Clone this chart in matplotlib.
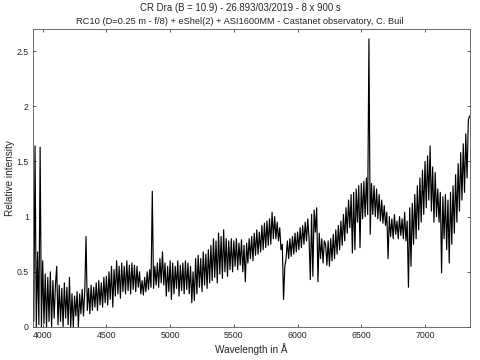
import numpy as np
import matplotlib
matplotlib.use("Agg")
import matplotlib.pyplot as plt
from matplotlib.ticker import FormatStrFormatter

# Wavelength grid (Angstrom), 10 A sampling from 3920 to 7350
wavelength = np.arange(3920, 7351, 10)

# Relative intensity (alternating upper / lower excursions of the noisy spectrum)
flux = [
    0.45, 0.05, 1.64, 0.00, 0.68, 0.02, 1.63, 0.00, 0.60, 0.03,   # 3920-4010
    0.48, 0.00, 0.45, 0.05, 0.50, 0.00, 0.42, 0.08, 0.38, 0.55,   # 4020-4110
    0.02, 0.38, 0.05, 0.35, 0.00, 0.40, 0.08, 0.36, 0.02, 0.45,   # 4120-4210
    0.00, 0.30, 0.00, 0.28, 0.10, 0.32, 0.00, 0.30, 0.12, 0.34,   # 4220-4310
    0.10, 0.32, 0.82, 0.15, 0.35, 0.12, 0.38, 0.15, 0.36, 0.18,   # 4320-4410
    0.40, 0.15, 0.42, 0.20, 0.40, 0.18, 0.45, 0.22, 0.46, 0.20,   # 4420-4510
    0.50, 0.25, 0.55, 0.18, 0.52, 0.28, 0.60, 0.30, 0.55, 0.26,   # 4520-4610
    0.58, 0.32, 0.55, 0.30, 0.60, 0.33, 0.56, 0.30, 0.58, 0.34,   # 4620-4710
    0.56, 0.32, 0.55, 0.36, 0.50, 0.30, 0.42, 0.29, 0.45, 0.32,   # 4720-4810
    0.50, 0.34, 0.52, 0.36, 1.23, 0.35, 0.55, 0.38, 0.58, 0.36,   # 4820-4910
    0.62, 0.40, 0.68, 0.38, 0.58, 0.28, 0.55, 0.32, 0.60, 0.25,   # 4920-5010
    0.58, 0.30, 0.55, 0.35, 0.60, 0.28, 0.56, 0.33, 0.58, 0.30,   # 5020-5110
    0.60, 0.34, 0.58, 0.30, 0.55, 0.22, 0.50, 0.24, 0.62, 0.30,   # 5120-5210
    0.65, 0.36, 0.62, 0.32, 0.68, 0.38, 0.66, 0.35, 0.70, 0.40,   # 5220-5310
    0.74, 0.42, 0.80, 0.45, 0.78, 0.40, 0.85, 0.48, 0.82, 0.44,   # 5320-5410
    0.88, 0.50, 0.80, 0.46, 0.78, 0.52, 0.80, 0.50, 0.78, 0.55,   # 5420-5510
    0.80, 0.52, 0.76, 0.56, 0.79, 0.50, 0.74, 0.41, 0.76, 0.58,   # 5520-5610
    0.80, 0.62, 0.82, 0.60, 0.85, 0.65, 0.88, 0.66, 0.86, 0.68,   # 5620-5710
    0.92, 0.70, 0.94, 0.72, 0.96, 0.74, 0.98, 0.75, 1.04, 0.80,   # 5720-5810
    1.00, 0.80, 0.95, 0.78, 0.90, 0.70, 0.75, 0.25, 0.55, 0.62,   # 5820-5910
    0.78, 0.62, 0.80, 0.64, 0.82, 0.66, 0.85, 0.68, 0.86, 0.70,   # 5920-6010
    0.90, 0.72, 0.92, 0.75, 0.95, 0.78, 0.98, 0.80, 0.43, 1.02,   # 6020-6110
    0.46, 1.06, 0.86, 1.08, 0.41, 0.85, 0.62, 0.80, 0.58, 0.78,   # 6120-6210
    0.75, 0.56, 0.78, 0.55, 0.80, 0.60, 0.84, 0.62, 0.88, 0.66,   # 6220-6310
    0.92, 0.70, 0.96, 0.74, 1.02, 0.78, 1.08, 0.85, 1.15, 0.90,   # 6320-6410
    1.20, 0.67, 1.22, 0.70, 1.25, 0.95, 1.28, 0.72, 1.30, 0.98,   # 6420-6510
    1.32, 1.00, 1.35, 1.02, 2.61, 0.84, 1.30, 1.02, 1.28, 1.00,   # 6520-6610
    1.25, 0.98, 1.20, 0.96, 1.15, 0.94, 1.10, 0.92, 1.04, 0.62,   # 6620-6710
    1.00, 0.82, 0.98, 0.80, 1.02, 0.84, 0.96, 0.80, 1.00, 0.83,   # 6720-6810
    0.98, 0.80, 1.04, 0.78, 0.96, 0.36, 1.08, 0.55, 1.12, 0.75,   # 6820-6910
    1.20, 0.80, 1.28, 0.88, 1.35, 0.95, 1.42, 1.02, 1.50, 1.08,   # 6920-7010
    1.55, 1.15, 1.64, 1.05, 1.45, 0.95, 1.40, 1.00, 1.25, 0.95,   # 7020-7110
    1.22, 0.49, 1.18, 0.80, 1.20, 0.70, 1.15, 0.58, 1.22, 0.75,   # 7120-7210
    1.28, 0.85, 1.38, 0.95, 1.48, 1.05, 1.58, 1.15, 1.66, 1.22,   # 7220-7310
    1.75, 1.35, 1.88, 1.91,                                       # 7320-7350
]

x_ticks = [4000, 4500, 5000, 5500, 6000, 6500, 7000]
y_ticks = [0, 0.5, 1, 1.5, 2, 2.5]

title_line1 = "CR Dra (B = 10.9) - 26.893/03/2019 - 8 x 900 s"
title_line2 = "RC10 (D=0.25 m - f/8) + eShel(2) + ASI1600MM - Castanet observatory, C. Buil"

plt.rcParams['font.family'] = ['Liberation Sans', 'DejaVu Sans']
txt_color = '#262626'

fig = plt.figure(figsize=(4.8, 3.6), dpi=100)
ax = fig.add_axes([33/480, 33/360, (470-33)/480, (327-29)/360])
ax.plot(wavelength, flux, color='k', lw=0.85, solid_joinstyle='round')

ax.set_xlim(3924, 7353)
ax.set_ylim(0, 2.70)
ax.set_xticks(x_ticks)
ax.set_yticks(y_ticks)
ax.yaxis.set_major_formatter(FormatStrFormatter('%g'))
ax.tick_params(direction='in', length=2.5, width=0.5, top=True, right=True,
               labelsize=6.3, colors=txt_color, pad=3)
for s in ax.spines.values():
    s.set_linewidth(0.6)
    s.set_color('#555555')

ax.set_xlabel("Wavelength in Å", fontsize=7.2, color=txt_color, labelpad=2)
ax.set_ylabel("Relative intensity", fontsize=7.2, color=txt_color)
ax.yaxis.set_label_coords(-0.041, 0.5)

fig.text(0.5, 1 - 8/360, title_line1, ha='center', va='center', fontsize=6.9, color=txt_color)
fig.text(0.5, 1 - 21/360, title_line2, ha='center', va='center', fontsize=6.7, color=txt_color)

fig.savefig("out.png", dpi=100)
